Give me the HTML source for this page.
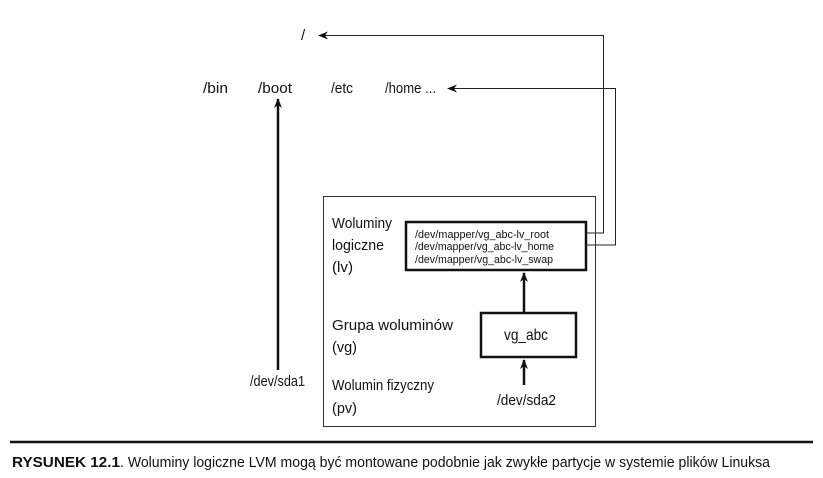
<!DOCTYPE html>
<html><head><style>
body{margin:0;background:#fff;width:823px;height:473px;overflow:hidden}
svg text{font-family:"Liberation Sans Narrow","Liberation Sans",sans-serif;fill:#111}
</style></head><body>
<svg width="823" height="473" viewBox="0 0 823 473">
<defs><marker id="a" markerWidth="10" markerHeight="8" refX="9" refY="4" orient="auto" markerUnits="userSpaceOnUse"><path d="M0,0 L10,4 L0,8 L3,4z" fill="#111"/></marker></defs>
<g font-size="15">
<text x="301" y="40">/</text>
<text x="203" y="93" textLength="25" lengthAdjust="spacingAndGlyphs">/bin</text>
<text x="258" y="93" textLength="34" lengthAdjust="spacingAndGlyphs">/boot</text>
<text x="331" y="93" textLength="22" lengthAdjust="spacingAndGlyphs">/etc</text>
<text x="385" y="93" textLength="51" lengthAdjust="spacingAndGlyphs">/home ...</text>
<text x="250" y="386" textLength="55" lengthAdjust="spacingAndGlyphs">/dev/sda1</text>
<text x="497" y="405" textLength="59" lengthAdjust="spacingAndGlyphs">/dev/sda2</text>
<text x="332" y="228" textLength="60" lengthAdjust="spacingAndGlyphs">Woluminy</text>
<text x="332" y="250" textLength="52" lengthAdjust="spacingAndGlyphs">logiczne</text>
<text x="332" y="272" textLength="21" lengthAdjust="spacingAndGlyphs">(lv)</text>
<text x="332" y="330" textLength="121" lengthAdjust="spacingAndGlyphs">Grupa woluminów</text>
<text x="332" y="352" textLength="25" lengthAdjust="spacingAndGlyphs">(vg)</text>
<text x="332" y="390" textLength="102" lengthAdjust="spacingAndGlyphs">Wolumin fizyczny</text>
<text x="332" y="413" textLength="25" lengthAdjust="spacingAndGlyphs">(pv)</text>
<text x="504" y="340" font-size="16" textLength="44" lengthAdjust="spacingAndGlyphs">vg_abc</text>
</g>
<g font-size="11">
<text x="415" y="238" textLength="134" lengthAdjust="spacingAndGlyphs">/dev/mapper/vg_abc-lv_root</text>
<text x="415" y="250" textLength="139" lengthAdjust="spacingAndGlyphs">/dev/mapper/vg_abc-lv_home</text>
<text x="415" y="263" textLength="138" lengthAdjust="spacingAndGlyphs">/dev/mapper/vg_abc-lv_swap</text>
</g>
<rect x="323.5" y="196.5" width="272" height="230" fill="none" stroke="#333" stroke-width="1"/>
<rect x="406" y="222" width="180" height="48" fill="none" stroke="#111" stroke-width="2.5"/>
<rect x="481" y="313" width="95" height="44" fill="none" stroke="#111" stroke-width="2.5"/>
<path d="M586,233 H603.5 V35.5 H319" fill="none" stroke="#222" stroke-width="1" marker-end="url(#a)"/>
<path d="M586,245 H615.5 V88.5 H448" fill="none" stroke="#222" stroke-width="1" marker-end="url(#a)"/>
<path d="M524,312 V273" stroke="#111" stroke-width="2.5" marker-end="url(#a)"/>
<path d="M524,385 V360" stroke="#111" stroke-width="2.5" marker-end="url(#a)"/>
<path d="M278,370 V99" stroke="#111" stroke-width="2.5" marker-end="url(#a)"/>
<line x1="10" y1="442" x2="813" y2="442" stroke="#111" stroke-width="2.5"/>
<text x="12" y="467" font-size="15" font-weight="bold" textLength="108" lengthAdjust="spacingAndGlyphs">RYSUNEK 12.1</text>
<text x="120" y="467" font-size="15" textLength="650" lengthAdjust="spacingAndGlyphs">. Woluminy logiczne LVM mogą być montowane podobnie jak zwykłe partycje w systemie plików Linuksa</text>
</svg>
</body></html>
